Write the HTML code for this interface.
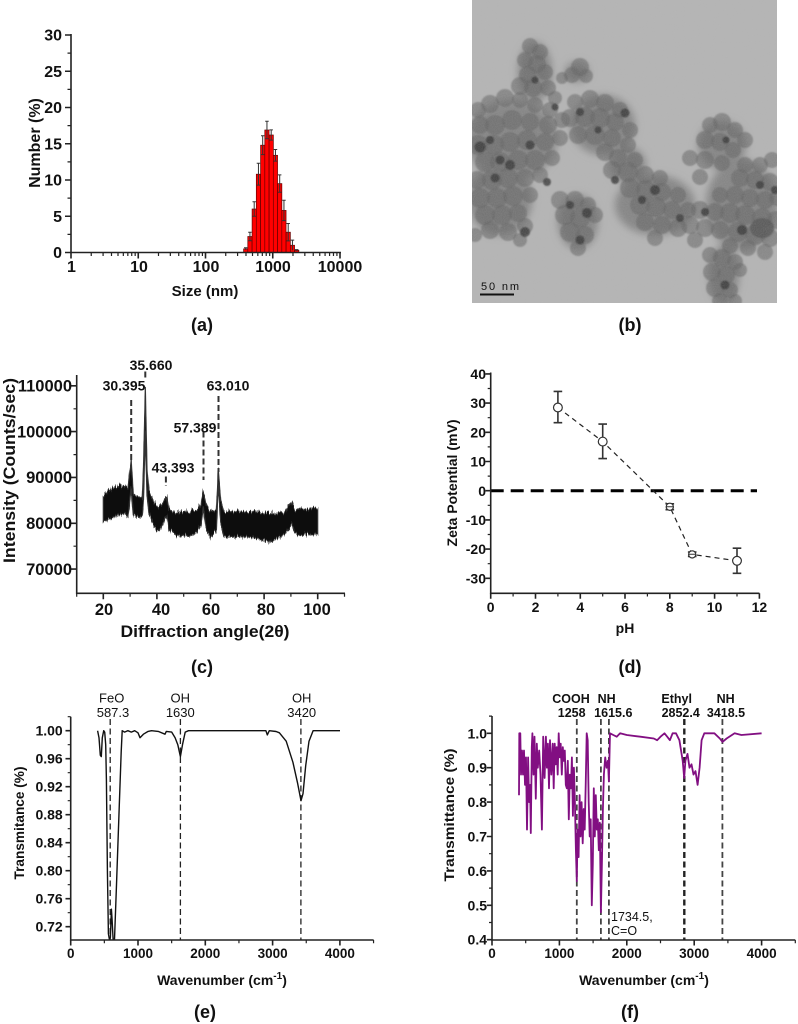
<!DOCTYPE html>
<html><head><meta charset="utf-8"><style>
html,body{margin:0;padding:0;background:#fff;}
svg{display:block;}
text{font-family:"Liberation Sans",Arial,sans-serif;fill:#111;}
</style></head><body>
<svg width="798" height="1024" viewBox="0 0 798 1024" xmlns="http://www.w3.org/2000/svg">
<defs>
<clipPath id="tem"><rect x="472" y="0" width="305" height="303"/></clipPath>
<filter id="soft"><feGaussianBlur stdDeviation="0.8"/></filter>
<filter id="blur4" x="-20%" y="-20%" width="140%" height="140%"><feGaussianBlur stdDeviation="4"/></filter>
<filter id="grain" x="0" y="0" width="100%" height="100%"><feTurbulence type="fractalNoise" baseFrequency="0.9" numOctaves="1" seed="5" result="n"/><feColorMatrix in="n" type="matrix" values="0 0 0 0 0.5  0 0 0 0 0.5  0 0 0 0 0.5  0 0 0 0.25 0" result="g"/><feComposite in="g" in2="SourceGraphic" operator="in"/></filter>
<filter id="rough" x="-5%" y="-30%" width="110%" height="160%"><feTurbulence type="fractalNoise" baseFrequency="0.8 0.05" numOctaves="2" seed="3" result="n"/><feColorMatrix in="n" type="matrix" values="0 0 0 0 0.5  0 1 0 0 0  0 0 1 0 0  0 0 0 0 1" result="m"/><feDisplacementMap in="SourceGraphic" in2="m" scale="10" xChannelSelector="R" yChannelSelector="G"/></filter>
</defs>
<rect width="798" height="1024" fill="#fff"/>

<!-- ===== Panel (a) ===== -->
<g>
<g fill="#ff0000" stroke="#6a0000" stroke-width="0.7">
<rect x="243.6" y="248.9" width="4.25" height="3.6"/>
<rect x="247.8" y="236.5" width="4.25" height="16"/>
<rect x="252.1" y="209.0" width="4.25" height="43.5"/>
<rect x="256.3" y="174.2" width="4.25" height="78.3"/>
<rect x="260.6" y="145.2" width="4.25" height="107.3"/>
<rect x="264.8" y="130.0" width="4.25" height="122.5"/>
<rect x="269.1" y="135.0" width="4.25" height="117.5"/>
<rect x="273.3" y="155.3" width="4.25" height="97.2"/>
<rect x="277.6" y="183.6" width="4.25" height="68.9"/>
<rect x="281.8" y="210.4" width="4.25" height="42.1"/>
<rect x="286.1" y="232.2" width="4.25" height="20.3"/>
<rect x="290.3" y="245.25" width="4.25" height="7.25"/>
<rect x="294.6" y="250.3" width="4.25" height="2.2"/>
</g>
<g stroke="#333" stroke-width="1" fill="none">
<path d="M245.7 247.8V250 M244 247.8H247.4"/>
<path d="M249.95 232.2V240.8 M248.2 232.2H251.7 M248.2 240.8H251.7"/>
<path d="M254.2 201.8V216.2 M252.5 201.8H255.9 M252.5 216.2H255.9"/>
<path d="M258.45 163.3V185.1 M256.7 163.3H260.2 M256.7 185.1H260.2"/>
<path d="M262.7 135.8V154.6 M261 135.8H264.4 M261 154.6H264.4"/>
<path d="M266.95 121.3V138.7 M265.2 121.3H268.7 M265.2 138.7H268.7"/>
<path d="M271.2 129.9V140.1 M269.5 129.9H272.9 M269.5 140.1H272.9"/>
<path d="M275.45 149.5V161.1 M273.7 149.5H277.2 M273.7 161.1H277.2"/>
<path d="M279.7 174.9V192.3 M278 174.9H281.4 M278 192.3H281.4"/>
<path d="M283.95 200.2V220.6 M282.2 200.2H285.7 M282.2 220.6H285.7"/>
<path d="M288.2 223.5V240.9 M286.5 223.5H289.9 M286.5 240.9H289.9"/>
<path d="M292.45 240.1V250.4 M290.7 240.1H294.2"/>
<path d="M296.7 249.6V251 M295 249.6H298.4"/>
</g>
<g stroke="#222" stroke-width="1.6" fill="none">
<path d="M71 34V253.3 M70.2 252.5H341"/>
<path d="M65 252.5H71 M65 216.25H71 M65 180H71 M65 143.75H71 M65 107.5H71 M65 71.25H71 M65 35H71"/>
<path d="M71 252.5V258.5 M138.25 252.5V258.5 M205.5 252.5V258.5 M272.75 252.5V258.5 M340 252.5V258.5"/>
</g>
<g stroke="#222" stroke-width="1.2" fill="none">
<path d="M67.5 234.4H71 M67.5 198.1H71 M67.5 161.9H71 M67.5 125.6H71 M67.5 89.4H71 M67.5 53.1H71"/>
<path d="M91.24 252.5v3.5M103.09 252.5v3.5M111.49 252.5v3.5M118 252.5v3.5M123.33 252.5v3.5M127.83 252.5v3.5M131.73 252.5v3.5M135.17 252.5v3.5
M158.49 252.5v3.5M170.34 252.5v3.5M178.74 252.5v3.5M185.25 252.5v3.5M190.58 252.5v3.5M195.08 252.5v3.5M198.98 252.5v3.5M202.42 252.5v3.5
M225.74 252.5v3.5M237.59 252.5v3.5M245.99 252.5v3.5M252.5 252.5v3.5M257.83 252.5v3.5M262.33 252.5v3.5M266.23 252.5v3.5M269.67 252.5v3.5
M292.99 252.5v3.5M304.84 252.5v3.5M313.24 252.5v3.5M319.75 252.5v3.5M325.08 252.5v3.5M329.58 252.5v3.5M333.48 252.5v3.5M336.92 252.5v3.5"/>
</g>
<g font-size="16" font-weight="bold" text-anchor="end">
<text x="62" y="258">0</text>
<text x="62" y="221.8">5</text>
<text x="62" y="185.5">10</text>
<text x="62" y="149.3">15</text>
<text x="62" y="113">20</text>
<text x="62" y="76.8">25</text>
<text x="62" y="40.5">30</text>
</g>
<g font-size="16" font-weight="bold" text-anchor="middle">
<text x="71.5" y="272">1</text>
<text x="139" y="272">10</text>
<text x="206" y="272">100</text>
<text x="273" y="272">1000</text>
<text x="340" y="272">10000</text>
</g>
<text x="205" y="296" font-size="15" font-weight="bold" text-anchor="middle">Size (nm)</text>
<text transform="translate(40,143) rotate(-90)" font-size="16" font-weight="bold" text-anchor="middle">Number (%)</text>
<text x="202" y="331" font-size="18" font-weight="bold" text-anchor="middle">(a)</text>
</g>

<!-- ===== Panel (b) TEM ===== -->
<g clip-path="url(#tem)">
<rect x="472" y="0" width="305" height="303" fill="#b4b4b4"/>
<g fill="#828282" filter="url(#blur4)">
<ellipse cx="535" cy="72" rx="17" ry="30"/>
<ellipse cx="577" cy="72" rx="12" ry="10"/>
<ellipse cx="512" cy="140" rx="45" ry="40"/>
<ellipse cx="500" cy="200" rx="32" ry="35"/>
<ellipse cx="578" cy="222" rx="20" ry="27"/>
<ellipse cx="603" cy="125" rx="32" ry="30"/>
<ellipse cx="628" cy="165" rx="18" ry="18"/>
<ellipse cx="655" cy="205" rx="40" ry="30"/>
<ellipse cx="742" cy="205" rx="36" ry="45"/>
<ellipse cx="722" cy="145" rx="24" ry="24"/>
<ellipse cx="724" cy="275" rx="15" ry="30"/>
</g>
<g fill="#5e5e5e" fill-opacity="0.55" filter="url(#soft)">
<circle cx="530" cy="46" r="8"/><circle cx="540" cy="52" r="8"/><circle cx="525" cy="60" r="8"/><circle cx="537" cy="64" r="9"/><circle cx="528" cy="75" r="9"/><circle cx="545" cy="72" r="8"/><circle cx="520" cy="86" r="9"/><circle cx="533" cy="88" r="9"/><circle cx="548" cy="88" r="8"/><circle cx="555" cy="98" r="7"/>
<circle cx="580" cy="67" r="9"/><circle cx="572" cy="75" r="8"/><circle cx="586" cy="76" r="7"/><circle cx="562" cy="78" r="6"/>
<circle cx="478" cy="110" r="8"/><circle cx="490" cy="104" r="9"/><circle cx="505" cy="98" r="9"/><circle cx="520" cy="100" r="8"/><circle cx="535" cy="105" r="8"/><circle cx="550" cy="110" r="8"/>
<circle cx="480" cy="125" r="9"/><circle cx="495" cy="125" r="10"/><circle cx="512" cy="120" r="10"/><circle cx="530" cy="122" r="9"/><circle cx="548" cy="125" r="9"/><circle cx="562" cy="120" r="8"/>
<circle cx="478" cy="145" r="10"/><circle cx="494" cy="145" r="10"/><circle cx="510" cy="142" r="10"/><circle cx="527" cy="140" r="10"/><circle cx="545" cy="142" r="9"/><circle cx="560" cy="138" r="8"/>
<circle cx="485" cy="162" r="10"/><circle cx="500" cy="162" r="10"/><circle cx="518" cy="160" r="10"/><circle cx="535" cy="160" r="10"/><circle cx="552" cy="158" r="8"/>
<circle cx="477" cy="180" r="9"/><circle cx="492" cy="180" r="10"/><circle cx="508" cy="178" r="10"/><circle cx="525" cy="178" r="9"/><circle cx="540" cy="175" r="8"/>
<circle cx="480" cy="198" r="10"/><circle cx="497" cy="198" r="10"/><circle cx="513" cy="196" r="10"/><circle cx="530" cy="195" r="8"/>
<circle cx="485" cy="215" r="10"/><circle cx="502" cy="215" r="10"/><circle cx="518" cy="213" r="9"/><circle cx="490" cy="230" r="9"/><circle cx="508" cy="232" r="9"/><circle cx="525" cy="226" r="8"/><circle cx="475" cy="235" r="7"/><circle cx="520" cy="240" r="7"/>
<circle cx="560" cy="200" r="9"/><circle cx="575" cy="200" r="9"/><circle cx="588" cy="205" r="8"/><circle cx="565" cy="215" r="10"/><circle cx="580" cy="218" r="10"/><circle cx="595" cy="215" r="8"/><circle cx="570" cy="232" r="10"/><circle cx="585" cy="235" r="9"/><circle cx="578" cy="248" r="8"/>
<circle cx="575" cy="102" r="8"/><circle cx="590" cy="99" r="9"/><circle cx="605" cy="103" r="9"/><circle cx="620" cy="110" r="8"/><circle cx="570" cy="118" r="9"/><circle cx="585" cy="117" r="10"/><circle cx="600" cy="118" r="10"/><circle cx="615" cy="122" r="9"/><circle cx="630" cy="130" r="8"/>
<circle cx="578" cy="135" r="9"/><circle cx="595" cy="135" r="10"/><circle cx="612" cy="138" r="9"/><circle cx="628" cy="145" r="8"/><circle cx="605" cy="152" r="9"/><circle cx="618" cy="158" r="9"/><circle cx="635" cy="160" r="8"/>
<circle cx="612" cy="170" r="9"/><circle cx="628" cy="172" r="10"/><circle cx="645" cy="175" r="9"/><circle cx="660" cy="178" r="8"/><circle cx="630" cy="188" r="10"/><circle cx="646" cy="190" r="10"/><circle cx="662" cy="192" r="9"/><circle cx="678" cy="195" r="8"/>
<circle cx="640" cy="205" r="10"/><circle cx="656" cy="207" r="10"/><circle cx="672" cy="210" r="9"/><circle cx="688" cy="210" r="8"/><circle cx="645" cy="222" r="9"/><circle cx="662" cy="225" r="9"/><circle cx="678" cy="228" r="9"/><circle cx="655" cy="238" r="8"/><circle cx="690" cy="225" r="9"/><circle cx="695" cy="240" r="8"/>
<circle cx="710" cy="125" r="8"/><circle cx="722" cy="122" r="9"/><circle cx="735" cy="130" r="8"/><circle cx="745" cy="140" r="8"/><circle cx="705" cy="140" r="9"/><circle cx="720" cy="142" r="9"/><circle cx="733" cy="150" r="8"/>
<circle cx="690" cy="158" r="8"/><circle cx="705" cy="160" r="9"/><circle cx="722" cy="163" r="8"/><circle cx="745" cy="165" r="8"/><circle cx="760" cy="165" r="8"/><circle cx="772" cy="160" r="8"/>
<circle cx="700" cy="177" r="8"/><circle cx="740" cy="178" r="9"/><circle cx="755" cy="180" r="9"/><circle cx="770" cy="182" r="9"/>
<circle cx="720" cy="195" r="8"/><circle cx="735" cy="195" r="9"/><circle cx="750" cy="198" r="9"/><circle cx="765" cy="200" r="9"/><circle cx="777" cy="198" r="8"/>
<circle cx="700" cy="210" r="9"/><circle cx="715" cy="212" r="9"/><circle cx="730" cy="213" r="10"/><circle cx="745" cy="215" r="10"/><circle cx="762" cy="218" r="10"/><circle cx="776" cy="220" r="9"/>
<circle cx="705" cy="228" r="9"/><circle cx="720" cy="230" r="9"/><circle cx="738" cy="232" r="10"/><circle cx="755" cy="235" r="10"/><circle cx="770" cy="238" r="9"/><circle cx="730" cy="246" r="8"/><circle cx="748" cy="248" r="8"/><circle cx="765" cy="252" r="8"/>
<circle cx="710" cy="255" r="8"/><circle cx="722" cy="258" r="9"/><circle cx="735" cy="262" r="8"/><circle cx="712" cy="272" r="9"/><circle cx="726" cy="275" r="9"/><circle cx="740" cy="270" r="7"/><circle cx="715" cy="288" r="9"/><circle cx="730" cy="290" r="8"/><circle cx="720" cy="301" r="8"/><circle cx="735" cy="301" r="7"/>
</g>
<g fill="#2e2e2e" fill-opacity="0.8" filter="url(#soft)">
<circle cx="480" cy="147" r="5.5"/><circle cx="510" cy="165" r="5"/><circle cx="530" cy="145" r="4.5"/><circle cx="547" cy="182" r="4"/><circle cx="525" cy="232" r="5"/><circle cx="495" cy="178" r="4.5"/><circle cx="500" cy="160" r="4.5"/><circle cx="490" cy="140" r="4"/>
<circle cx="580" cy="112" r="4"/><circle cx="625" cy="113" r="4.5"/><circle cx="598" cy="130" r="3.5"/><circle cx="587" cy="213" r="5"/><circle cx="655" cy="190" r="5"/><circle cx="680" cy="218" r="4"/><circle cx="615" cy="180" r="4"/>
<circle cx="726" cy="140" r="3.5"/><circle cx="742" cy="230" r="5"/><circle cx="760" cy="185" r="4"/><circle cx="725" cy="285" r="4.5"/><circle cx="555" cy="107" r="3.5"/><circle cx="570" cy="205" r="4"/><circle cx="642" cy="200" r="4"/><circle cx="705" cy="212" r="4"/><circle cx="535" cy="80" r="3.5"/><circle cx="580" cy="240" r="4.5"/><circle cx="775" cy="190" r="4"/>
<ellipse cx="762" cy="228" rx="12" ry="10" fill="#505050"/>
</g>
<rect x="472" y="0" width="305" height="303" filter="url(#grain)" fill="#000"/>
<path d="M480 294.5H514" stroke="#111" stroke-width="2"/>
<text x="481" y="290" font-size="11" font-family="Liberation Mono, monospace" textLength="38" fill="#222">50 nm</text>
</g>
<text x="630" y="331" font-size="18" font-weight="bold" text-anchor="middle">(b)</text>

<!-- ===== Panel (c) XRD ===== -->
<g>
<polygon filter="url(#rough)" fill="#111" stroke="#333" stroke-width="1.2" stroke-linejoin="round" points="103.3,497.0 108.7,490.8 114.0,486.9 119.4,484.6 124.7,486.9 127.8,489.2 131.2,458.8 133.3,493.8 138.1,496.1 142.2,498.4 143.5,468.3 145.3,388.1 147.0,468.3 148.9,491.2 154.2,502.7 159.6,507.6 166.7,496.5 169.0,509.6 175.7,512.1 189.1,512.1 197.1,509.6 201.1,502.7 203.3,489.9 205.9,505.0 210.5,511.8 216.4,509.6 218.3,469.0 220.7,500.4 223.9,511.8 250.7,511.8 269.5,513.1 285.5,511.8 291.7,501.4 294.6,509.6 317.7,507.3 317.7,534.5 294.6,534.5 291.7,523.3 285.5,534.5 269.5,541.9 250.7,537.1 223.9,536.8 220.7,523.3 218.3,484.3 216.4,529.9 210.5,537.8 205.9,527.6 203.3,507.3 201.1,525.3 197.1,532.2 189.1,535.8 175.7,535.8 169.0,529.9 166.7,514.1 159.6,530.9 154.2,527.3 148.9,511.6 147.0,495.8 145.3,431.6 143.5,500.4 142.2,516.1 138.1,517.4 133.3,515.1 131.2,488.6 127.8,517.3 124.7,511.3 119.4,515.0 114.0,517.3 108.7,519.1 103.3,522.0"/>
<g stroke="#333" stroke-width="2" stroke-dasharray="6 3" fill="none">
<path d="M131.2 400V462"/>
<path d="M145.3 371.5V379"/>
<path d="M165.9 476.5V486"/>
<path d="M203.5 431.5V480"/>
<path d="M218.5 396V472"/>
</g>
<g font-size="14" font-weight="bold" text-anchor="middle">
<text x="151" y="370">35.660</text>
<text x="124" y="390.7">30.395</text>
<text x="228" y="390.7">63.010</text>
<text x="195" y="432.7">57.389</text>
<text x="173" y="472.7">43.393</text>
</g>
<g stroke="#222" stroke-width="1.6" fill="none">
<path d="M76.7 375V594.1 M75.9 593.3H345"/>
<path d="M71 385.8H76.7 M71 431.6H76.7 M71 477.4H76.7 M71 523.3H76.7 M71 569.1H76.7"/>
<path d="M103.3 593.3v6 M156.9 593.3v6 M210.5 593.3v6 M264.1 593.3v6 M317.7 593.3v6"/>
</g>
<g stroke="#222" stroke-width="1.2" fill="none">
<path d="M73.5 408.8H76.7 M73.5 454.6H76.7 M73.5 500.4H76.7 M73.5 546.2H76.7"/>
<path d="M76.7 593.3v3.5 M130.1 593.3v3.5 M183.7 593.3v3.5 M237.3 593.3v3.5 M290.9 593.3v3.5 M344.5 593.3v3.5"/>
</g>
<g font-size="16.5" font-weight="bold" text-anchor="end">
<text x="72" y="391.6">110000</text>
<text x="72" y="437.4">100000</text>
<text x="72" y="483.2">90000</text>
<text x="72" y="529.1">80000</text>
<text x="72" y="574.9">70000</text>
</g>
<g font-size="16.5" font-weight="bold" text-anchor="middle">
<text x="104" y="615">20</text>
<text x="161" y="615">40</text>
<text x="211" y="615">60</text>
<text x="266" y="615">80</text>
<text x="317" y="615">100</text>
</g>
<text x="205" y="637" font-size="17" font-weight="bold" text-anchor="middle" textLength="169" lengthAdjust="spacingAndGlyphs">Diffraction angle(2θ)</text>
<text transform="translate(15,470.5) rotate(-90)" font-size="17" font-weight="bold" text-anchor="middle" textLength="185" lengthAdjust="spacingAndGlyphs">Intensity (Counts/sec)</text>
<text x="202" y="673" font-size="18" font-weight="bold" text-anchor="middle">(c)</text>
</g>

<!-- ===== Panel (d) Zeta ===== -->
<g>
<path d="M490.7 490.7H757" stroke="#000" stroke-width="3" stroke-dasharray="13 7" fill="none"/>
<polyline points="557.9,407.5 602.7,441.6 669.8,506.8 692.2,554.4 737,560.8" fill="none" stroke="#222" stroke-width="1.2" stroke-dasharray="5 4"/>
<g stroke="#333" stroke-width="1.6" fill="none">
<path d="M557.9 391.4V422.7 M553.6 391.4H562.2 M553.6 422.7H562.2"/>
<path d="M602.7 424.1V458.6 M598.4 424.1H607 M598.4 458.6H607"/>
<path d="M669.8 503.8V509.7 M665.5 503.8H674.1 M665.5 509.7H674.1"/>
<path d="M692.2 552V556.4 M687.9 552H696.5 M687.9 556.4H696.5"/>
<path d="M737 548.2V573.3 M732.7 548.2H741.3 M732.7 573.3H741.3"/>
</g>
<g fill="#fff" stroke="#333" stroke-width="1.2">
<circle cx="557.9" cy="407.5" r="4.4"/>
<circle cx="602.7" cy="441.6" r="4.4"/>
<circle cx="669.8" cy="506.8" r="3.6"/>
<circle cx="692.2" cy="554.4" r="3.6"/>
<circle cx="737" cy="560.8" r="4.4"/>
</g>
<g stroke="#333" stroke-width="1" fill="none">
<path d="M666.5 506.8H673.1 M689 554.2H695.4"/>
</g>
<g stroke="#222" stroke-width="1.6" fill="none">
<path d="M490.7 372.5V594.1 M489.9 593.3H759.4"/>
<path d="M485.5 373.9H490.7 M485.5 403.1H490.7 M485.5 432.3H490.7 M485.5 461.5H490.7 M485.5 490.7H490.7 M485.5 519.9H490.7 M485.5 549.1H490.7 M485.5 578.3H490.7"/>
<path d="M490.7 593.3v5.5 M535.5 593.3v5.5 M580.3 593.3v5.5 M625 593.3v5.5 M669.8 593.3v5.5 M714.6 593.3v5.5 M759.4 593.3v5.5"/>
</g>
<g stroke="#222" stroke-width="1.2" fill="none">
<path d="M487.7 388.5H490.7 M487.7 417.7H490.7 M487.7 446.9H490.7 M487.7 476.1H490.7 M487.7 505.3H490.7 M487.7 534.5H490.7 M487.7 563.7H490.7"/>
<path d="M513.1 593.3v3.2 M557.9 593.3v3.2 M602.7 593.3v3.2 M647.4 593.3v3.2 M692.2 593.3v3.2 M737 593.3v3.2"/>
</g>
<g font-size="14" font-weight="bold" text-anchor="end">
<text x="486" y="379">40</text>
<text x="486" y="408.2">30</text>
<text x="486" y="437.4">20</text>
<text x="486" y="466.6">10</text>
<text x="486" y="495.8">0</text>
<text x="486" y="525">-10</text>
<text x="486" y="554.2">-20</text>
<text x="486" y="583.4">-30</text>
</g>
<g font-size="14" font-weight="bold" text-anchor="middle">
<text x="490.7" y="612">0</text>
<text x="535.5" y="612">2</text>
<text x="580.3" y="612">4</text>
<text x="625" y="612">6</text>
<text x="669.8" y="612">8</text>
<text x="714.6" y="612">10</text>
<text x="759.4" y="612">12</text>
</g>
<text x="625" y="633" font-size="14" font-weight="bold" text-anchor="middle">pH</text>
<text transform="translate(457,483) rotate(-90)" font-size="14" font-weight="bold" text-anchor="middle" textLength="127" lengthAdjust="spacingAndGlyphs">Zeta Potential (mV)</text>
<text x="630" y="673" font-size="18" font-weight="bold" text-anchor="middle">(d)</text>
</g>

<!-- ===== Panel (e) FTIR ===== -->
<g>
<g stroke="#222" stroke-width="1.3" stroke-dasharray="6 3.5" fill="none">
<path d="M110.2 719V940"/>
<path d="M180.4 719V940"/>
<path d="M300.9 719V940"/>
</g>
<polyline fill="none" stroke="#111" stroke-width="1.4" stroke-linejoin="round" points="97.6,730.7 99.0,737.7 100.3,755.2 101.3,756.6 102.3,737.7 103.7,730.7 104.7,732.1 105.7,744.7 106.4,779.7 107.4,870.7 108.4,933.7 109.4,939.5 110.4,937.2 111.4,909.2 112.1,919.7 113.1,939.5 114.5,939.5 116.5,884.7 119.2,807.7 121.2,751.7 122.2,730.7 124.6,732.1 127.9,730.7 131.3,732.1 134.7,730.7 138.0,732.8 140.0,737.7 143.4,734.2 148.1,731.4 151.5,730.7 158.2,731.4 165.0,734.2 166.3,731.4 171.7,732.1 175.1,737.7 177.8,744.7 180.4,756.6 182.5,744.7 185.2,732.1 188.5,730.7 265.9,730.7 267.3,734.9 269.3,730.7 276.1,731.5 279.4,732.8 286.2,741.2 292.9,762.2 297.6,783.2 301.0,800.7 303.0,793.7 305.7,765.7 309.0,741.2 313.1,730.7 340.0,730.7"/>
<g stroke="#222" stroke-width="1.6" fill="none">
<path d="M70.7 716.7V940.8 M69.9 940H373.6"/>
<path d="M65.5 730.7H70.7 M65.5 758.7H70.7 M65.5 786.7H70.7 M65.5 814.7H70.7 M65.5 842.7H70.7 M65.5 870.7H70.7 M65.5 898.7H70.7 M65.5 926.7H70.7"/>
<path d="M70.7 940v5.5 M138 940v5.5 M205.3 940v5.5 M272.6 940v5.5 M339.9 940v5.5"/>
</g>
<g stroke="#222" stroke-width="1.2" fill="none">
<path d="M67.7 716.7H70.7 M67.7 744.7H70.7 M67.7 772.7H70.7 M67.7 800.7H70.7 M67.7 828.7H70.7 M67.7 856.7H70.7 M67.7 884.7H70.7 M67.7 912.7H70.7"/>
<path d="M104.35 940v3.2 M171.65 940v3.2 M238.95 940v3.2 M306.25 940v3.2 M373.55 940v3.2"/>
</g>
<g font-size="14" font-weight="bold" text-anchor="end">
<text x="62.7" y="735.7">1.00</text>
<text x="62.7" y="763.7">0.96</text>
<text x="62.7" y="791.7">0.92</text>
<text x="62.7" y="819.7">0.88</text>
<text x="62.7" y="847.7">0.84</text>
<text x="62.7" y="875.7">0.80</text>
<text x="62.7" y="903.7">0.76</text>
<text x="62.7" y="931.7">0.72</text>
</g>
<g font-size="13.5" font-weight="bold" text-anchor="middle">
<text x="70.7" y="958">0</text>
<text x="138" y="958">1000</text>
<text x="205.3" y="958">2000</text>
<text x="272.6" y="958">3000</text>
<text x="339.9" y="958">4000</text>
</g>
<g font-size="13" text-anchor="middle">
<text x="111.7" y="702.7">FeO</text>
<text x="113" y="717">587.3</text>
<text x="180.3" y="702.7">OH</text>
<text x="180.3" y="717">1630</text>
<text x="301.7" y="702.7">OH</text>
<text x="301.7" y="717">3420</text>
</g>
<text x="222" y="985" font-size="14" font-weight="bold" text-anchor="middle">Wavenumber (cm<tspan font-size="10" dy="-6">-1</tspan><tspan dy="6">)</tspan></text>
<text transform="translate(24,823) rotate(-90)" font-size="14" font-weight="bold" text-anchor="middle" textLength="113" lengthAdjust="spacingAndGlyphs">Transmitance (%)</text>
<text x="205" y="1018" font-size="18" font-weight="bold" text-anchor="middle">(e)</text>
</g>

<!-- ===== Panel (f) FTIR ===== -->
<g>
<g stroke="#444" stroke-width="1.8" stroke-dasharray="6 3.5" fill="none">
<path d="M576.8 719V940"/>
<path d="M600.9 719V940"/>
<path d="M608.9 719V940"/>
<path d="M684.3 719V940" stroke-width="2.4" stroke="#222"/>
<path d="M722.4 719V940"/>
</g>
<polyline fill="none" stroke="#820f82" stroke-width="1.8" stroke-linejoin="round" points="519.0,795.2 519.3,733.3 520.3,733.3 521.0,774.6 522.0,750.5 523.0,774.6 524.0,750.5 525.0,784.9 526.0,757.4 527.0,829.6 528.1,757.4 529.1,802.1 530.1,784.9 530.8,833.1 531.8,747.1 532.4,733.3 533.5,774.6 534.5,736.7 535.8,798.7 536.8,743.6 537.8,767.7 539.2,750.5 540.5,774.6 541.9,829.6 543.2,736.7 544.6,778.0 545.9,736.7 546.9,767.7 547.9,743.6 549.0,788.3 550.0,740.2 551.3,774.6 552.7,743.6 553.7,788.3 554.7,743.6 555.7,764.3 556.7,747.1 557.7,774.6 558.7,733.3 559.7,757.4 560.7,743.6 561.8,774.6 562.8,747.1 563.8,760.8 564.8,750.5 565.8,784.9 566.8,788.3 567.8,760.8 568.8,819.3 569.8,774.6 570.9,788.3 571.9,757.4 572.9,815.9 573.9,767.7 574.9,802.1 575.9,850.2 576.8,881.2 577.6,829.6 578.6,857.1 579.6,795.2 580.6,836.5 581.6,802.1 582.7,843.4 583.7,809.0 584.7,829.6 585.7,784.9 586.7,733.3 587.7,740.2 588.7,802.1 589.7,836.5 590.7,819.3 591.8,905.3 592.8,864.0 593.8,788.3 594.8,836.5 595.8,795.2 596.8,829.6 597.8,819.3 598.8,850.2 599.8,822.7 600.9,912.2 601.9,864.0 602.9,809.0 603.9,774.6 605.2,757.4 606.6,767.7 607.9,760.8 608.9,781.5 610.0,733.3 613.3,735.0 616.7,736.7 620.1,733.3 626.8,735.0 640.3,736.7 653.8,738.5 657.1,740.2 660.5,736.7 664.5,733.3 667.2,736.7 669.9,740.2 672.6,733.3 676.0,733.3 679.4,740.2 682.7,760.8 684.2,778.0 685.4,760.8 687.5,753.9 689.5,767.7 691.5,764.3 693.5,774.6 695.5,771.1 697.6,784.9 699.6,767.7 701.6,740.2 704.3,733.3 714.4,733.3 719.8,738.5 722.5,741.9 726.6,738.5 734.6,733.3 741.4,735.0 761.6,733.3"/>
<g stroke="#222" stroke-width="1.6" fill="none">
<path d="M492 716V940.8 M491.2 940H795.3"/>
<path d="M486.8 733.3H492 M486.8 767.7H492 M486.8 802.1H492 M486.8 836.5H492 M486.8 870.9H492 M486.8 905.3H492 M486.8 939.7H492"/>
<path d="M492 940v5.5 M559.4 940v5.5 M626.8 940v5.5 M694.2 940v5.5 M761.6 940v5.5"/>
</g>
<g stroke="#222" stroke-width="1.2" fill="none">
<path d="M489 716.1H492 M489 750.5H492 M489 784.9H492 M489 819.3H492 M489 853.7H492 M489 888.1H492 M489 922.5H492"/>
<path d="M525.7 940v3.2 M593.1 940v3.2 M660.5 940v3.2 M727.9 940v3.2 M795.3 940v3.2"/>
</g>
<g font-size="14" font-weight="bold" text-anchor="end">
<text x="487" y="738.3">1.0</text>
<text x="487" y="772.7">0.9</text>
<text x="487" y="807.1">0.8</text>
<text x="487" y="841.5">0.7</text>
<text x="487" y="875.9">0.6</text>
<text x="487" y="910.3">0.5</text>
<text x="487" y="944.7">0.4</text>
</g>
<g font-size="13.5" font-weight="bold" text-anchor="middle">
<text x="492" y="958">0</text>
<text x="559.4" y="958">1000</text>
<text x="626.8" y="958">2000</text>
<text x="694.2" y="958">3000</text>
<text x="761.6" y="958">4000</text>
</g>
<g font-size="12.5" font-weight="bold" text-anchor="middle">
<text x="571" y="703">COOH</text>
<text x="606.7" y="703">NH</text>
<text x="571.7" y="717">1258</text>
<text x="613.3" y="717">1615.6</text>
<text x="676.7" y="703">Ethyl</text>
<text x="680.7" y="717">2852.4</text>
<text x="725.7" y="703">NH</text>
<text x="726" y="717">3418.5</text>
</g>
<g font-size="12.5">
<text x="611" y="921">1734.5,</text>
<text x="611" y="935">C=O</text>
</g>
<text x="644" y="985" font-size="14" font-weight="bold" text-anchor="middle">Wavenumber (cm<tspan font-size="10" dy="-6">-1</tspan><tspan dy="6">)</tspan></text>
<text transform="translate(454,815) rotate(-90)" font-size="14" font-weight="bold" text-anchor="middle" textLength="133" lengthAdjust="spacingAndGlyphs">Transmittance (%)</text>
<text x="630" y="1018" font-size="18" font-weight="bold" text-anchor="middle">(f)</text>
</g>
</svg>
</body></html>
